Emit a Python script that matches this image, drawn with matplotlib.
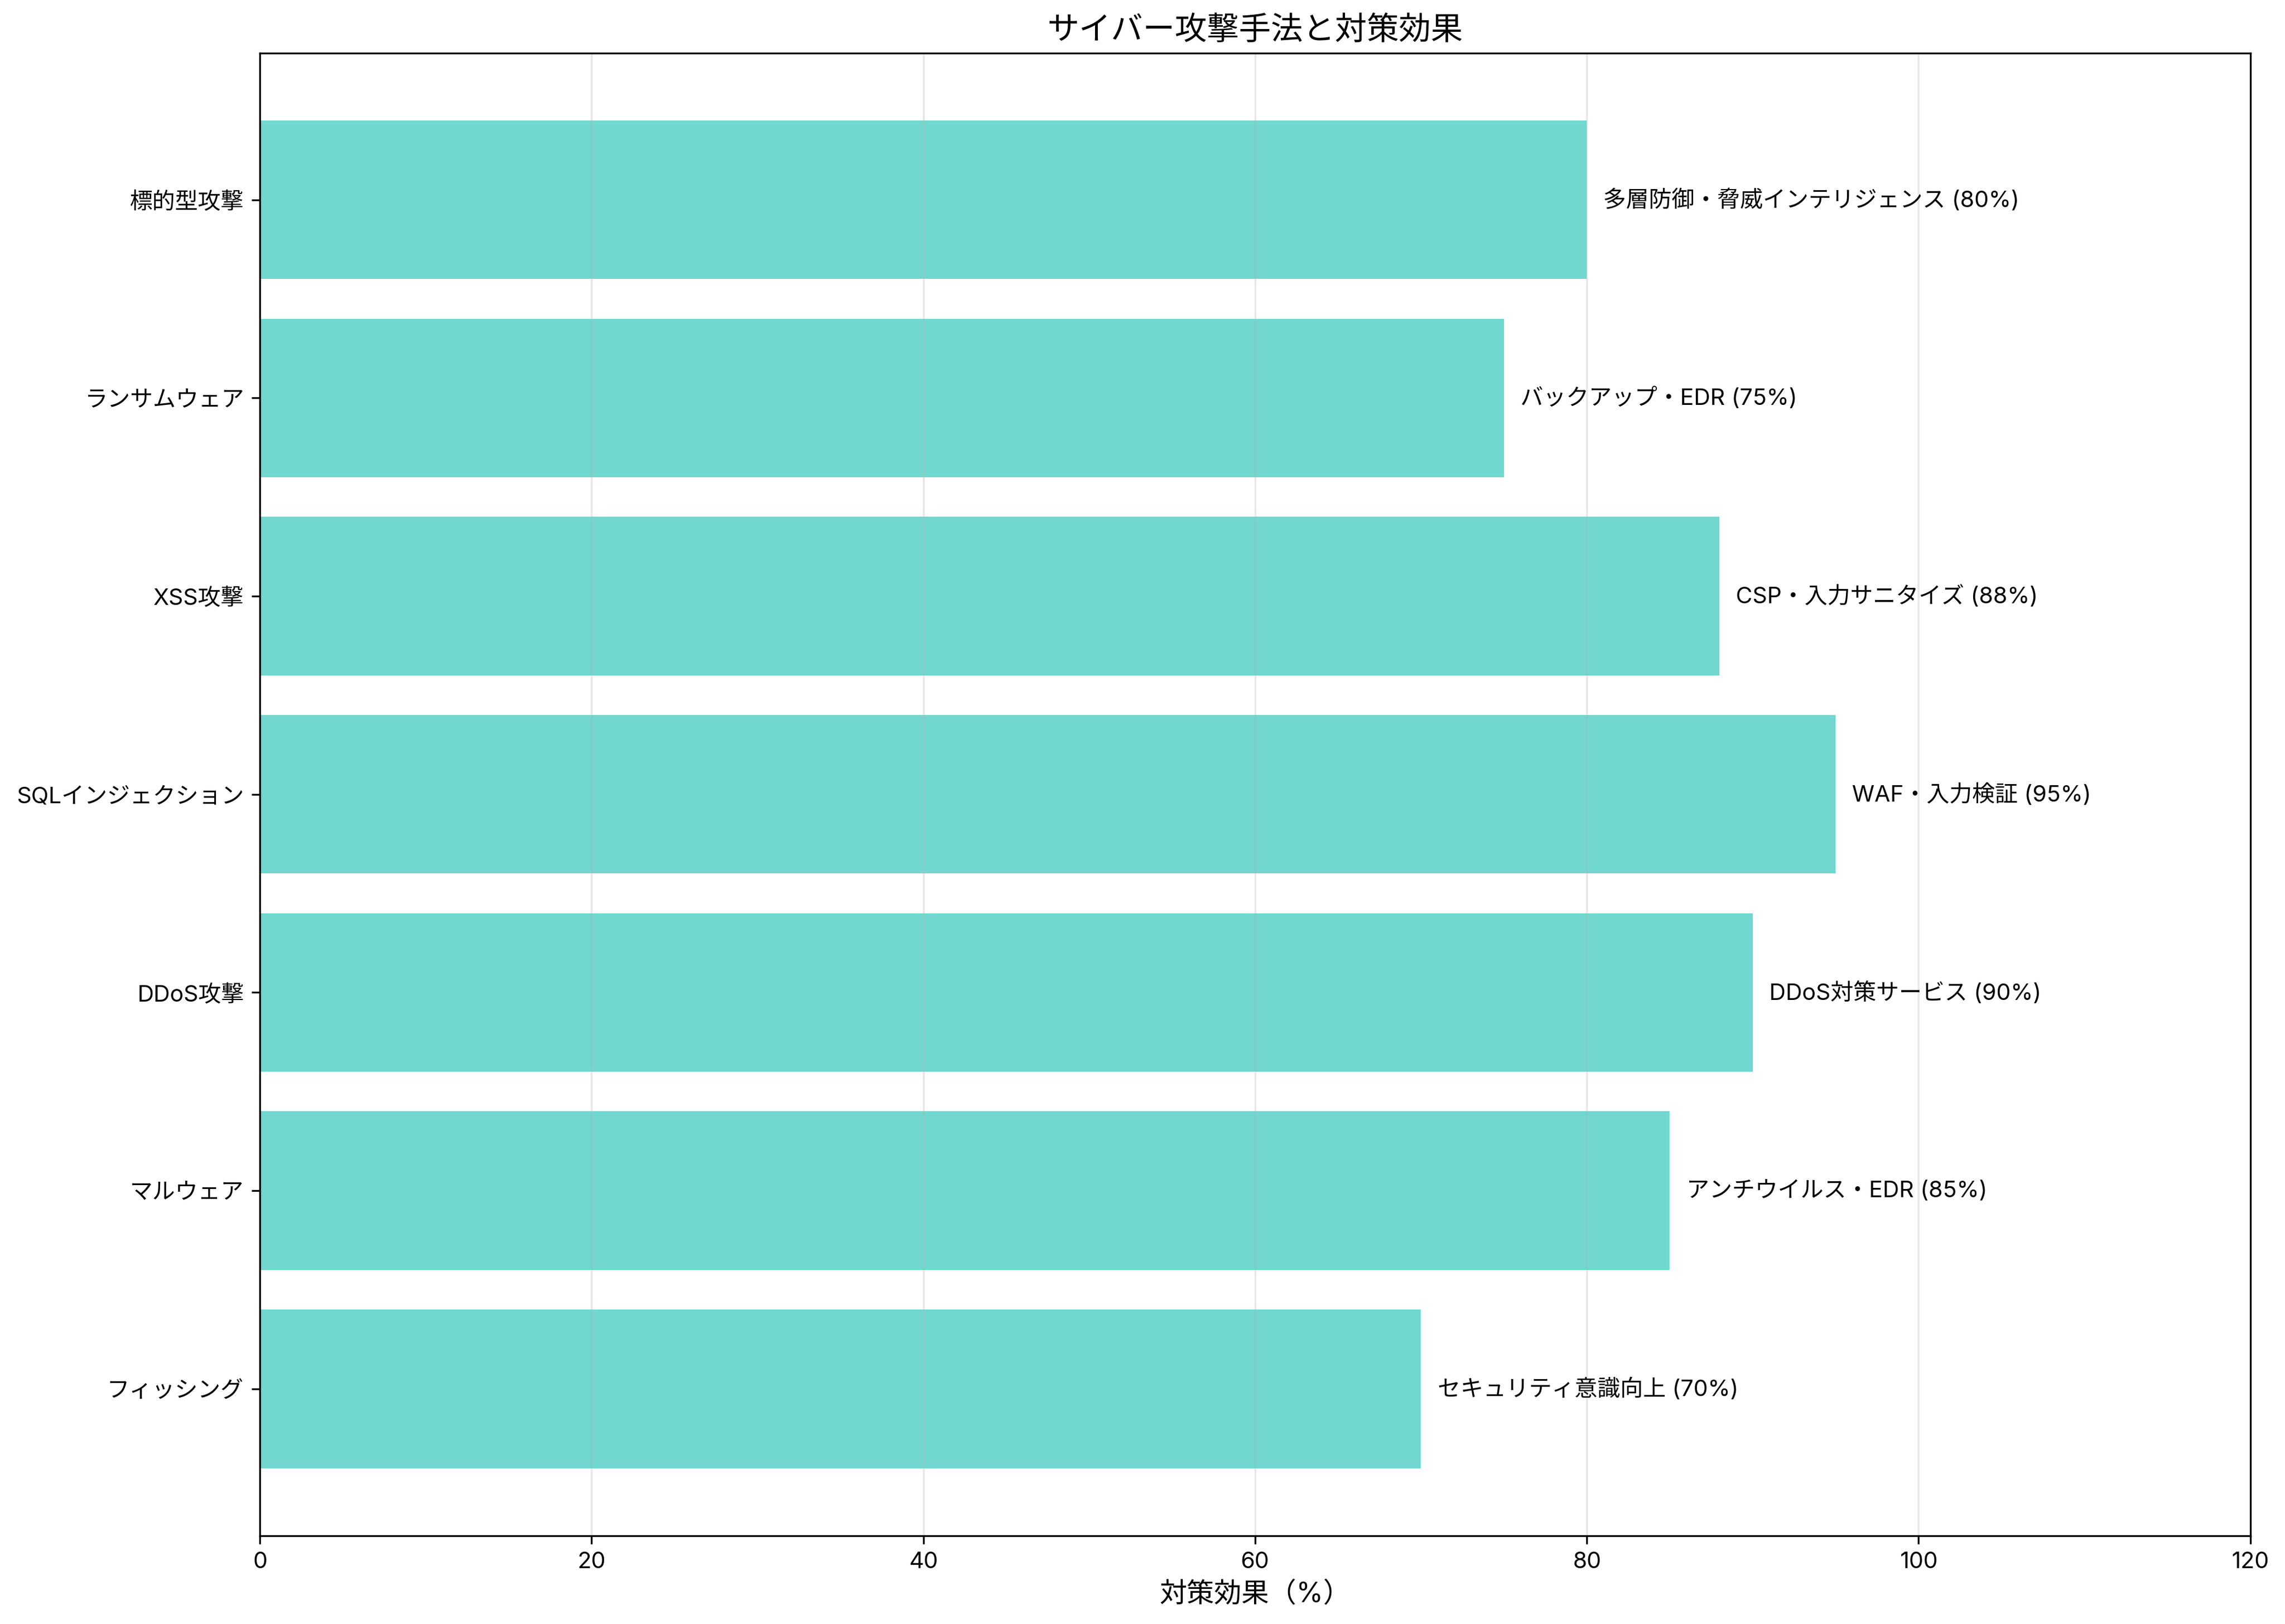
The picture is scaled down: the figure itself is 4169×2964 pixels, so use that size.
import matplotlib.pyplot as plt
import numpy as np

plt.rcParams['font.family'] = ['Inter', 'Noto Sans CJK JP', 'DejaVu Sans']

# データ
attacks = ['フィッシング', 'マルウェア', 'DDoS攻撃', 'SQLインジェクション', 'XSS攻撃', 'ランサムウェア', '標的型攻撃']
countermeasures = ['セキュリティ意識向上', 'アンチウイルス・EDR', 'DDoS対策サービス', 'WAF・入力検証',
                   'CSP・入力サニタイズ', 'バックアップ・EDR', '多層防御・脅威インテリジェンス']
effectiveness = [70, 85, 90, 95, 88, 75, 80]

fig, ax = plt.subplots(figsize=(14, 10))
y = np.arange(len(attacks))
ax.barh(y, effectiveness, color='#4ECDC4', alpha=0.8, height=0.8)

# 対策ラベル
for i, (cm, val) in enumerate(zip(countermeasures, effectiveness)):
    ax.text(val + 1, i, f'{cm} ({val}%)', va='center', fontsize=10)

ax.set_yticks(y)
ax.set_yticklabels(attacks)
ax.set_xlim(0, 120)
ax.set_xlabel('対策効果（%）', fontsize=12)
ax.set_title('サイバー攻撃手法と対策効果', fontsize=14)
ax.grid(axis='x', alpha=0.3)

plt.tight_layout()
plt.savefig('out.png', dpi=300, bbox_inches='tight')
plt.close()
